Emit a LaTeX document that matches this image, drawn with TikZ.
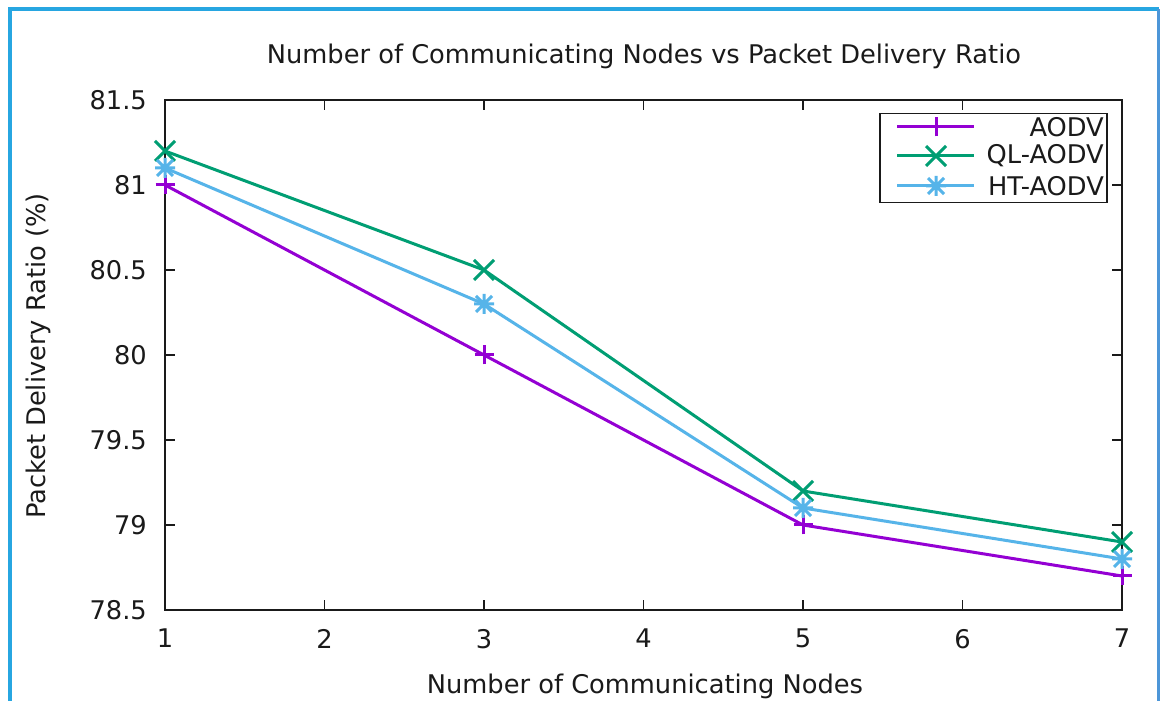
\documentclass[tikz,border=0pt]{standalone}
\usepackage{fontspec}
\setmainfont{DejaVu Sans}
\definecolor{frameblue}{HTML}{27A6E1}
\definecolor{frameblueR}{HTML}{4D96D8}
\definecolor{aodv}{HTML}{9400D3}
\definecolor{qlaodv}{HTML}{009E73}
\definecolor{htaodv}{HTML}{56B4E9}
\definecolor{ink}{HTML}{1A1A1A}
\tikzset{
  lbl/.style={font=\fontsize{25.7}{30}\selectfont, text=ink, inner sep=0pt},
  axisline/.style={draw=ink, line width=1.8pt},
  curve/.style={line width=3pt, line join=round},
  mkplus/.pic={\draw[line width=3pt] (-9.5pt,0) -- (9.5pt,0) (0,-9.5pt) -- (0,9.5pt);},
  mkcross/.pic={\draw[line width=3pt] (-10pt,-10pt) -- (10pt,10pt) (-10pt,10pt) -- (10pt,-10pt);},
  mkstar/.pic={\draw[line width=3pt] (-10pt,0) -- (10pt,0) (0,-10pt) -- (0,10pt)
                 (-8pt,-8pt) -- (8pt,8pt) (-8pt,8pt) -- (8pt,-8pt);},
}
\begin{document}
\begin{tikzpicture}[x=1pt,y=1pt]
\useasboundingbox (0,0) rectangle (1160,701);
\fill[white] (0,0) rectangle (1160,701);
% outer frame
\draw[frameblue, line width=4pt] (9.5,-5) -- (9.5,692) -- (1158.5,692);
\draw[frameblueR, line width=4pt] (1158.5,692) -- (1158.5,-5);

% title and axis labels
\node[lbl] (title) at (644,645) {Number of Communicating Nodes vs Packet Delivery Ratio};
\node[lbl] (xlabel) at (645,15) {Number of Communicating Nodes};
\node[lbl, rotate=90] (ylabel) at (38,345) {Packet Delivery Ratio (\%)};

% plot area: x 1..7, y 78.5..81.5 (data shifted by (1,78.5))
\begin{scope}[shift={(165,91)}, x=159.5pt, y=170pt]
  \draw[axisline] (0,0) rectangle (6,3);
  \foreach \i [count=\k from 1] in {0,...,6} {
    \draw[axisline] (\i,0) -- ++(0,10pt) (\i,3) -- ++(0,-10pt);
    \node[lbl, anchor=north] (xt\k) at ([yshift=-19pt]\i,0) {\k};
  }
  \foreach \j/\t [count=\k] in {0/78.5,0.5/79,1/79.5,1.5/80,2/80.5,2.5/81,3/81.5} {
    \draw[axisline] (0,\j) -- ++(10pt,0) (6,\j) -- ++(-10pt,0);
    \node[lbl, anchor=east] (yt\k) at ([xshift=-18pt]0,\j) {\t};
  }

  % data points
  \coordinate (a1) at (0,2.5); \coordinate (a3) at (2,1.5);
  \coordinate (a5) at (4,0.5); \coordinate (a7) at (6,0.2);
  \coordinate (q1) at (0,2.7); \coordinate (q3) at (2,2.0);
  \coordinate (q5) at (4,0.7); \coordinate (q7) at (6,0.4);
  \coordinate (h1) at (0,2.6); \coordinate (h3) at (2,1.8);
  \coordinate (h5) at (4,0.6); \coordinate (h7) at (6,0.3);

  \draw[curve, aodv] (a1) -- (a3) -- (a5) -- (a7);
  \foreach \p in {a1,a3,a5,a7} \pic[aodv] at (\p) {mkplus};
  \draw[curve, qlaodv] (q1) -- (q3) -- (q5) -- (q7);
  \foreach \p in {q1,q3,q5,q7} \pic[qlaodv] at (\p) {mkcross};
  \draw[curve, htaodv] (h1) -- (h3) -- (h5) -- (h7);
  \foreach \p in {h1,h3,h5,h7} \pic[htaodv] at (\p) {mkstar};
\end{scope}

% legend
\node[draw=ink, line width=1.5pt, fill=white, minimum width=227pt, minimum height=89pt,
      inner sep=0pt, anchor=north west] (legend) at (879,588) {};
\foreach \y/\c/\m/\t [count=\k] in {574/aodv/mkplus/AODV, 545/qlaodv/mkcross/QL-AODV, 515/htaodv/mkstar/HT-AODV} {
  \coordinate (ls\k) at (897,\y);
  \coordinate (le\k) at (974,\y);
  \draw[curve, \c] (ls\k) -- (le\k);
  \pic[\c] at (936,\y) {\m};
  \node[lbl, anchor=east] (lt\k) at (1104,\y) {\t};
}
\end{tikzpicture}
\end{document}
